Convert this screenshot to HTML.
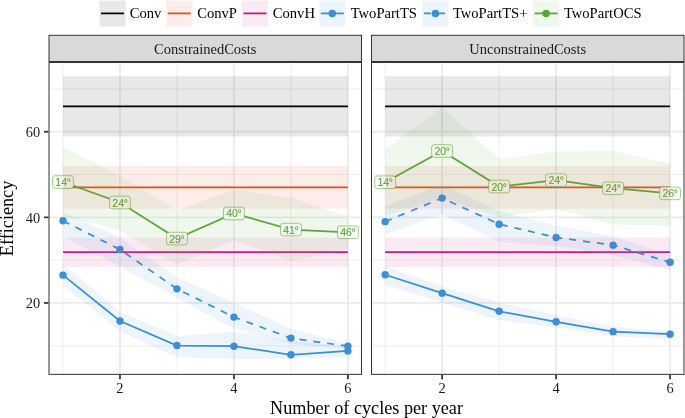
<!DOCTYPE html>
<html><head><meta charset="utf-8"><style>
html,body{margin:0;padding:0;background:#fff;}
body{width:685px;height:418px;overflow:hidden;}
svg{display:block;will-change:transform;}
text{font-family:"Liberation Serif",serif;}
.lg{font-size:14.6px;fill:#000;}
.st{font-size:14.5px;fill:#1A1A1A;}
.ax{font-size:14.4px;fill:#1A1A1A;}
.ti{font-size:18.2px;fill:#000;}
.lb{font-family:"Liberation Sans",sans-serif;font-size:10.5px;fill:#57A736;stroke:#57A736;stroke-width:0.1px;}
</style></head><body>
<svg width="685" height="418" viewBox="0 0 685 418">
<rect width="685" height="418" fill="#fff"/>
<rect x="99.4" y="0.6" width="26.2" height="25.9" fill="#000000" fill-opacity="0.09"/>
<line x1="101" y1="13.4" x2="124" y2="13.4" stroke="#000000" stroke-width="1.75"/>
<text x="129.7" y="18.4" class="lg">Conv</text>
<rect x="166.2" y="0.6" width="26.2" height="25.9" fill="#E14B37" fill-opacity="0.1"/>
<line x1="167.8" y1="13.4" x2="190.8" y2="13.4" stroke="#DE5316" stroke-width="1.75"/>
<text x="197.2" y="18.4" class="lg">ConvP</text>
<rect x="241.9" y="0.6" width="26.2" height="25.9" fill="#D73791" fill-opacity="0.105"/>
<line x1="243.5" y1="13.4" x2="266.5" y2="13.4" stroke="#C41A7C" stroke-width="1.75"/>
<text x="272.8" y="18.4" class="lg">ConvH</text>
<rect x="319.2" y="0.6" width="26.2" height="25.9" fill="#4B91D7" fill-opacity="0.1"/>
<line x1="320.8" y1="13.4" x2="343.8" y2="13.4" stroke="#3A8FD6" stroke-width="1.75"/>
<circle cx="332.3" cy="13.4" r="3.75" fill="#3A8FD6"/>
<text x="350.7" y="18.4" class="lg">TwoPartTS</text>
<rect x="422.3" y="0.6" width="26.2" height="25.9" fill="#4B91D7" fill-opacity="0.1"/>
<line x1="423.9" y1="13.4" x2="446.9" y2="13.4" stroke="#3A8FD6" stroke-width="1.75" stroke-dasharray="7,7"/>
<circle cx="435.4" cy="13.4" r="3.75" fill="#3A8FD6"/>
<text x="452.9" y="18.4" class="lg">TwoPartTS+</text>
<rect x="533.0" y="0.6" width="26.2" height="25.9" fill="#69AF41" fill-opacity="0.1"/>
<line x1="534.6" y1="13.4" x2="557.6" y2="13.4" stroke="#57A736" stroke-width="1.75"/>
<circle cx="546.1" cy="13.4" r="3.75" fill="#57A736"/>
<text x="563.9" y="18.4" class="lg">TwoPartOCS</text>
<rect x="49" y="35.3" width="312.5" height="26.2" fill="#D9D9D9" stroke="#333" stroke-width="1"/>
<text x="205.25" y="53.6" class="st" text-anchor="middle">ConstrainedCosts</text>
<rect x="48.5" y="62.0" width="313.5" height="312.85" fill="#fff"/>
<clipPath id="c0"><rect x="48.5" y="62.0" width="313.5" height="312.85"/></clipPath>
<g clip-path="url(#c0)">
<line x1="48.5" x2="362.0" y1="345.79" y2="345.79" stroke="#EBEBEB" stroke-width="0.87"/>
<line x1="48.5" x2="362.0" y1="260.16" y2="260.16" stroke="#EBEBEB" stroke-width="0.87"/>
<line x1="48.5" x2="362.0" y1="174.54" y2="174.54" stroke="#EBEBEB" stroke-width="0.87"/>
<line x1="48.5" x2="362.0" y1="88.91" y2="88.91" stroke="#EBEBEB" stroke-width="0.87"/>
<line y1="62.0" y2="374.85" x1="62.99" x2="62.99" stroke="#EBEBEB" stroke-width="0.87"/>
<line y1="62.0" y2="374.85" x1="176.95" x2="176.95" stroke="#EBEBEB" stroke-width="0.87"/>
<line y1="62.0" y2="374.85" x1="290.91" x2="290.91" stroke="#EBEBEB" stroke-width="0.87"/>
<line x1="48.5" x2="362.0" y1="302.97" y2="302.97" stroke="#EBEBEB" stroke-width="1.75"/>
<line x1="48.5" x2="362.0" y1="217.35" y2="217.35" stroke="#EBEBEB" stroke-width="1.75"/>
<line x1="48.5" x2="362.0" y1="131.72" y2="131.72" stroke="#EBEBEB" stroke-width="1.75"/>
<line y1="62.0" y2="374.85" x1="119.97" x2="119.97" stroke="#EBEBEB" stroke-width="1.75"/>
<line y1="62.0" y2="374.85" x1="233.93" x2="233.93" stroke="#EBEBEB" stroke-width="1.75"/>
<line y1="62.0" y2="374.85" x1="347.89" x2="347.89" stroke="#EBEBEB" stroke-width="1.75"/>
<polyline points="62.99,106.46 119.97,106.46 176.95,106.46 233.93,106.46 290.91,106.46 347.89,106.46" fill="none" stroke="#000000" stroke-width="1.75"/>
<polyline points="62.99,187.38 119.97,187.38 176.95,187.38 233.93,187.38 290.91,187.38 347.89,187.38" fill="none" stroke="#DE5316" stroke-width="1.75"/>
<polyline points="62.99,252.03 119.97,252.03 176.95,252.03 233.93,252.03 290.91,252.03 347.89,252.03" fill="none" stroke="#C41A7C" stroke-width="1.75"/>
<polyline points="62.99,275.15 119.97,320.96 176.95,345.57 233.93,346.22 290.91,354.78 347.89,350.92" fill="none" stroke="#3A8FD6" stroke-width="1.75"/>
<circle cx="62.99" cy="275.15" r="3.7" fill="#3A8FD6"/>
<circle cx="119.97" cy="320.96" r="3.7" fill="#3A8FD6"/>
<circle cx="176.95" cy="345.57" r="3.7" fill="#3A8FD6"/>
<circle cx="233.93" cy="346.22" r="3.7" fill="#3A8FD6"/>
<circle cx="290.91" cy="354.78" r="3.7" fill="#3A8FD6"/>
<circle cx="347.89" cy="350.92" r="3.7" fill="#3A8FD6"/>
<polyline points="62.99,220.77 119.97,249.46 176.95,288.85 233.93,317.1 290.91,338.08 347.89,346.22" fill="none" stroke="#3A8FD6" stroke-width="1.75" stroke-dasharray="7,7"/>
<circle cx="62.99" cy="220.77" r="3.7" fill="#3A8FD6"/>
<circle cx="119.97" cy="249.46" r="3.7" fill="#3A8FD6"/>
<circle cx="176.95" cy="288.85" r="3.7" fill="#3A8FD6"/>
<circle cx="233.93" cy="317.1" r="3.7" fill="#3A8FD6"/>
<circle cx="290.91" cy="338.08" r="3.7" fill="#3A8FD6"/>
<circle cx="347.89" cy="346.22" r="3.7" fill="#3A8FD6"/>
<polyline points="62.99,182.03 119.97,202.53 176.95,238.58 233.93,213.49 290.91,229.55 347.89,232.33" fill="none" stroke="#57A736" stroke-width="1.75"/>
<rect x="52.54" y="175.73" width="20.9" height="12.6" rx="2.6" fill="#fff" stroke="#57A736" stroke-opacity="0.7" stroke-width="0.8"/>
<text x="63.09" y="186.03" class="lb" text-anchor="middle">14<tspan dx="-0.35">°</tspan></text>
<rect x="109.52" y="196.23" width="20.9" height="12.6" rx="2.6" fill="#fff" stroke="#57A736" stroke-opacity="0.7" stroke-width="0.8"/>
<text x="120.07" y="206.53" class="lb" text-anchor="middle">24<tspan dx="-0.35">°</tspan></text>
<rect x="166.5" y="232.28" width="20.9" height="12.6" rx="2.6" fill="#fff" stroke="#57A736" stroke-opacity="0.7" stroke-width="0.8"/>
<text x="177.05" y="242.58" class="lb" text-anchor="middle">29<tspan dx="-0.35">°</tspan></text>
<rect x="223.48" y="207.19" width="20.9" height="12.6" rx="2.6" fill="#fff" stroke="#57A736" stroke-opacity="0.7" stroke-width="0.8"/>
<text x="234.03" y="217.49" class="lb" text-anchor="middle">40<tspan dx="-0.35">°</tspan></text>
<rect x="280.46" y="223.25" width="20.9" height="12.6" rx="2.6" fill="#fff" stroke="#57A736" stroke-opacity="0.7" stroke-width="0.8"/>
<text x="291.01" y="233.55" class="lb" text-anchor="middle">41<tspan dx="-0.35">°</tspan></text>
<rect x="337.44" y="226.03" width="20.9" height="12.6" rx="2.6" fill="#fff" stroke="#57A736" stroke-opacity="0.7" stroke-width="0.8"/>
<text x="347.99" y="236.33" class="lb" text-anchor="middle">46<tspan dx="-0.35">°</tspan></text>
<polygon points="62.99,76.28 347.89,76.28 347.89,136.43 62.99,136.43" fill="#000000" fill-opacity="0.09"/>
<polygon points="62.99,165.97 347.89,165.97 347.89,208.79 62.99,208.79" fill="#E14B37" fill-opacity="0.1"/>
<polygon points="62.99,237.47 347.89,237.47 347.89,267.01 62.99,267.01" fill="#D73791" fill-opacity="0.105"/>
<path d="M62.99,264.01 L119.97,311.96 L176.95,336.37 L233.93,331.66 L290.91,341.08 L347.89,346.22 L347.89,357.35 L290.91,359.06 L233.93,359.06 L176.95,357.35 L119.97,331.23 L62.99,284.99Z" fill="#4B91D7" fill-opacity="0.1"/>
<path d="M62.99,212.21 L119.97,237.47 L176.95,277.71 L233.93,302.55 L290.91,329.09 L347.89,342.79 L347.89,349.21 L290.91,344.07 L233.93,328.66 L176.95,297.84 L119.97,266.58 L62.99,236.19Z" fill="#4B91D7" fill-opacity="0.1"/>
<path d="M62.99,147.56 L119.97,175.39 L176.95,210.5 L233.93,189.52 L290.91,197.65 L347.89,216.06 L347.89,249.46 L290.91,261.02 L233.93,240.04 L176.95,264.87 L119.97,230.19 L62.99,215.64Z" fill="#69AF41" fill-opacity="0.1"/>
</g>
<rect x="49" y="62.5" width="312.5" height="311.85" fill="none" stroke="#333" stroke-width="1"/>
<line x1="119.97" x2="119.97" y1="374.85" y2="379.35" stroke="#333" stroke-width="1.75"/>
<text x="119.97" y="393.2" class="ax" text-anchor="middle">2</text>
<line x1="233.93" x2="233.93" y1="374.85" y2="379.35" stroke="#333" stroke-width="1.75"/>
<text x="233.93" y="393.2" class="ax" text-anchor="middle">4</text>
<line x1="347.89" x2="347.89" y1="374.85" y2="379.35" stroke="#333" stroke-width="1.75"/>
<text x="347.89" y="393.2" class="ax" text-anchor="middle">6</text>
<rect x="371.5" y="35.3" width="312.5" height="26.2" fill="#D9D9D9" stroke="#333" stroke-width="1"/>
<text x="527.75" y="53.6" class="st" text-anchor="middle">UnconstrainedCosts</text>
<rect x="371.0" y="62.0" width="313.5" height="312.85" fill="#fff"/>
<clipPath id="c1"><rect x="371.0" y="62.0" width="313.5" height="312.85"/></clipPath>
<g clip-path="url(#c1)">
<line x1="371.0" x2="684.5" y1="345.79" y2="345.79" stroke="#EBEBEB" stroke-width="0.87"/>
<line x1="371.0" x2="684.5" y1="260.16" y2="260.16" stroke="#EBEBEB" stroke-width="0.87"/>
<line x1="371.0" x2="684.5" y1="174.54" y2="174.54" stroke="#EBEBEB" stroke-width="0.87"/>
<line x1="371.0" x2="684.5" y1="88.91" y2="88.91" stroke="#EBEBEB" stroke-width="0.87"/>
<line y1="62.0" y2="374.85" x1="385.17" x2="385.17" stroke="#EBEBEB" stroke-width="0.87"/>
<line y1="62.0" y2="374.85" x1="499.13" x2="499.13" stroke="#EBEBEB" stroke-width="0.87"/>
<line y1="62.0" y2="374.85" x1="613.09" x2="613.09" stroke="#EBEBEB" stroke-width="0.87"/>
<line x1="371.0" x2="684.5" y1="302.97" y2="302.97" stroke="#EBEBEB" stroke-width="1.75"/>
<line x1="371.0" x2="684.5" y1="217.35" y2="217.35" stroke="#EBEBEB" stroke-width="1.75"/>
<line x1="371.0" x2="684.5" y1="131.72" y2="131.72" stroke="#EBEBEB" stroke-width="1.75"/>
<line y1="62.0" y2="374.85" x1="442.15" x2="442.15" stroke="#EBEBEB" stroke-width="1.75"/>
<line y1="62.0" y2="374.85" x1="556.11" x2="556.11" stroke="#EBEBEB" stroke-width="1.75"/>
<line y1="62.0" y2="374.85" x1="670.07" x2="670.07" stroke="#EBEBEB" stroke-width="1.75"/>
<polyline points="385.17,106.46 442.15,106.46 499.13,106.46 556.11,106.46 613.09,106.46 670.07,106.46" fill="none" stroke="#000000" stroke-width="1.75"/>
<polyline points="385.17,187.38 442.15,187.38 499.13,187.38 556.11,187.38 613.09,187.38 670.07,187.38" fill="none" stroke="#DE5316" stroke-width="1.75"/>
<polyline points="385.17,252.03 442.15,252.03 499.13,252.03 556.11,252.03 613.09,252.03 670.07,252.03" fill="none" stroke="#C41A7C" stroke-width="1.75"/>
<polyline points="385.17,274.72 442.15,293.13 499.13,311.32 556.11,321.81 613.09,331.66 670.07,334.23" fill="none" stroke="#3A8FD6" stroke-width="1.75"/>
<circle cx="385.17" cy="274.72" r="3.7" fill="#3A8FD6"/>
<circle cx="442.15" cy="293.13" r="3.7" fill="#3A8FD6"/>
<circle cx="499.13" cy="311.32" r="3.7" fill="#3A8FD6"/>
<circle cx="556.11" cy="321.81" r="3.7" fill="#3A8FD6"/>
<circle cx="613.09" cy="331.66" r="3.7" fill="#3A8FD6"/>
<circle cx="670.07" cy="334.23" r="3.7" fill="#3A8FD6"/>
<polyline points="385.17,221.63 442.15,198.08 499.13,224.2 556.11,237.47 613.09,245.18 670.07,262.3" fill="none" stroke="#3A8FD6" stroke-width="1.75" stroke-dasharray="7,7"/>
<circle cx="385.17" cy="221.63" r="3.7" fill="#3A8FD6"/>
<circle cx="442.15" cy="198.08" r="3.7" fill="#3A8FD6"/>
<circle cx="499.13" cy="224.2" r="3.7" fill="#3A8FD6"/>
<circle cx="556.11" cy="237.47" r="3.7" fill="#3A8FD6"/>
<circle cx="613.09" cy="245.18" r="3.7" fill="#3A8FD6"/>
<circle cx="670.07" cy="262.3" r="3.7" fill="#3A8FD6"/>
<polyline points="385.17,182.24 442.15,150.99 499.13,186.52 556.11,180.1 613.09,188.24 670.07,193.37" fill="none" stroke="#57A736" stroke-width="1.75"/>
<rect x="374.72" y="175.94" width="20.9" height="12.6" rx="2.6" fill="#fff" stroke="#57A736" stroke-opacity="0.7" stroke-width="0.8"/>
<text x="385.27" y="186.24" class="lb" text-anchor="middle">14<tspan dx="-0.35">°</tspan></text>
<rect x="431.7" y="144.69" width="20.9" height="12.6" rx="2.6" fill="#fff" stroke="#57A736" stroke-opacity="0.7" stroke-width="0.8"/>
<text x="442.25" y="154.99" class="lb" text-anchor="middle">20<tspan dx="-0.35">°</tspan></text>
<rect x="488.68" y="180.22" width="20.9" height="12.6" rx="2.6" fill="#fff" stroke="#57A736" stroke-opacity="0.7" stroke-width="0.8"/>
<text x="499.23" y="190.52" class="lb" text-anchor="middle">20<tspan dx="-0.35">°</tspan></text>
<rect x="545.66" y="173.8" width="20.9" height="12.6" rx="2.6" fill="#fff" stroke="#57A736" stroke-opacity="0.7" stroke-width="0.8"/>
<text x="556.21" y="184.1" class="lb" text-anchor="middle">24<tspan dx="-0.35">°</tspan></text>
<rect x="602.64" y="181.94" width="20.9" height="12.6" rx="2.6" fill="#fff" stroke="#57A736" stroke-opacity="0.7" stroke-width="0.8"/>
<text x="613.19" y="192.24" class="lb" text-anchor="middle">24<tspan dx="-0.35">°</tspan></text>
<rect x="659.62" y="187.07" width="20.9" height="12.6" rx="2.6" fill="#fff" stroke="#57A736" stroke-opacity="0.7" stroke-width="0.8"/>
<text x="670.17" y="197.37" class="lb" text-anchor="middle">26<tspan dx="-0.35">°</tspan></text>
<polygon points="385.17,76.28 670.07,76.28 670.07,136.43 385.17,136.43" fill="#000000" fill-opacity="0.09"/>
<polygon points="385.17,165.97 670.07,165.97 670.07,208.79 385.17,208.79" fill="#E14B37" fill-opacity="0.1"/>
<polygon points="385.17,237.47 670.07,237.47 670.07,267.01 385.17,267.01" fill="#D73791" fill-opacity="0.105"/>
<path d="M385.17,265.73 L442.15,286.71 L499.13,302.55 L556.11,314.96 L613.09,326.95 L670.07,330.8 L670.07,338.94 L613.09,336.37 L556.11,327.81 L499.13,320.1 L442.15,302.55 L385.17,284.99Z" fill="#4B91D7" fill-opacity="0.1"/>
<path d="M385.17,206.22 L442.15,184.38 L499.13,210.93 L556.11,225.48 L613.09,236.61 L670.07,255.02 L670.07,270.44 L613.09,255.02 L556.11,246.03 L499.13,241.75 L442.15,214.35 L385.17,234.47Z" fill="#4B91D7" fill-opacity="0.1"/>
<path d="M385.17,148.85 L442.15,107.75 L499.13,159.12 L556.11,151.42 L613.09,150.99 L670.07,163.83 L670.07,225.91 L613.09,224.63 L556.11,208.79 L499.13,217.35 L442.15,197.65 L385.17,216.06Z" fill="#69AF41" fill-opacity="0.1"/>
</g>
<rect x="371.5" y="62.5" width="312.5" height="311.85" fill="none" stroke="#333" stroke-width="1"/>
<line x1="442.15" x2="442.15" y1="374.85" y2="379.35" stroke="#333" stroke-width="1.75"/>
<text x="442.15" y="393.2" class="ax" text-anchor="middle">2</text>
<line x1="556.11" x2="556.11" y1="374.85" y2="379.35" stroke="#333" stroke-width="1.75"/>
<text x="556.11" y="393.2" class="ax" text-anchor="middle">4</text>
<line x1="670.07" x2="670.07" y1="374.85" y2="379.35" stroke="#333" stroke-width="1.75"/>
<text x="670.07" y="393.2" class="ax" text-anchor="middle">6</text>
<line x1="44" x2="48.5" y1="302.97" y2="302.97" stroke="#333" stroke-width="1.75"/>
<text x="40.2" y="307.97" class="ax" text-anchor="end">20</text>
<line x1="44" x2="48.5" y1="217.35" y2="217.35" stroke="#333" stroke-width="1.75"/>
<text x="40.2" y="222.95" class="ax" text-anchor="end">40</text>
<line x1="44" x2="48.5" y1="131.72" y2="131.72" stroke="#333" stroke-width="1.75"/>
<text x="40.2" y="136.92" class="ax" text-anchor="end">60</text>
<text x="366.5" y="413.9" class="ti" text-anchor="middle">Number of cycles per year</text>
<text transform="translate(13.0,218.43) rotate(-90)" class="ti" text-anchor="middle">Efficiency</text>
</svg>
</body></html>
